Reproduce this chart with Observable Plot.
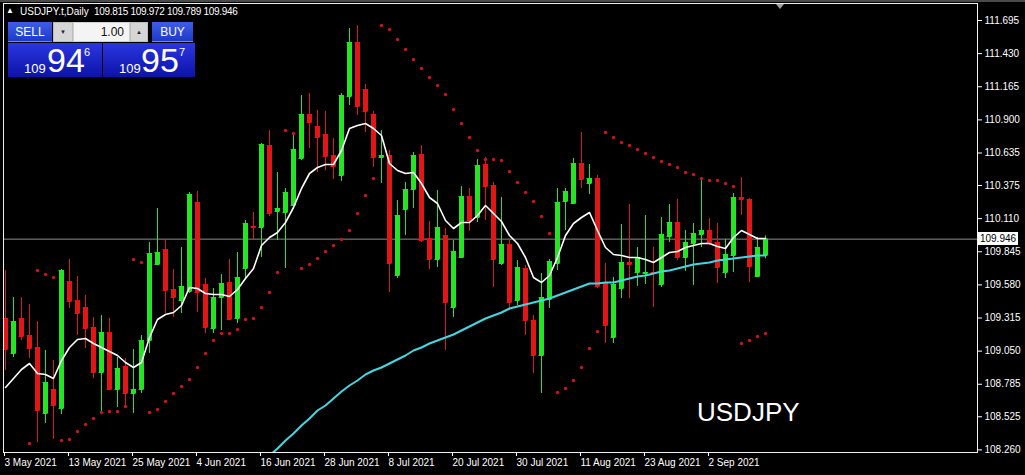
<!DOCTYPE html>
<html><head><meta charset="utf-8">
<script src="https://cdn.jsdelivr.net/npm/d3@7"></script>
<script src="https://cdn.jsdelivr.net/npm/@observablehq/plot@0.6"></script>
<style>
body{margin:0;background:#000;}
#wrap{position:relative;width:1025px;height:475px;overflow:hidden;background:#000;font-family:"Liberation Sans",Arial,sans-serif;}
#chart svg{display:block}
.ov{position:absolute;white-space:nowrap;color:#fff;line-height:1;}
.btn{position:absolute;background:linear-gradient(#3f5fe8,#1d39c8);color:#fff;font-size:12px;display:flex;align-items:center;justify-content:center;border-bottom:1px solid #6f86f0;box-sizing:border-box;}
.spin{position:absolute;background:#d6d6d6;color:#222;font-size:9px;display:flex;align-items:center;justify-content:center;box-sizing:border-box;border:1px solid #bdbdbd;}
.lot{position:absolute;background:#f4f4f4;color:#111;font-size:12px;display:flex;align-items:center;justify-content:flex-end;padding-right:5px;box-sizing:border-box;border:1px solid #cfcfcf;}
.big{position:absolute;background:linear-gradient(#2a36e0,#0d13a8);}
</style></head>
<body>
<div id="wrap">
  <div id="chart"></div>
</div>
<script>
// ---- data (USDJPY.t, Daily) ----
const symbol = "USDJPY";
const headerText = "USDJPY.t,Daily";
const headerOHLC = ["109.815", "109.972", "109.789", "109.946"];
const lastPrice = 109.946;
const bidParts = ["109", "94", "6"];
const askParts = ["109", "95", "7"];
const lotSize = "1.00";

const xTickIdx = [0, 8, 16, 24, 32, 40, 48, 56, 64, 72, 80, 88];
const xTickLabels = ["3 May 2021","13 May 2021","25 May 2021","4 Jun 2021","16 Jun 2021","28 Jun 2021","8 Jul 2021","20 Jul 2021","30 Jul 2021","11 Aug 2021","23 Aug 2021","2 Sep 2021"];
const yTicks = [111.695,111.430,111.165,110.900,110.635,110.375,110.110,109.845,109.580,109.315,109.050,108.785,108.525,108.260];

const open = [109.311,109.031,109.311,109.175,109.079,108.551,108.743,108.591,109.607,109.455,
109.399,109.239,108.879,109.199,108.743,108.927,108.711,108.743,109.135,109.743,
109.863,109.543,109.455,109.527,110.239,109.583,109.231,109.479,109.599,109.311,
109.711,110.047,110.039,110.695,110.167,110.159,110.215,110.591,110.943,110.847,
110.783,110.615,110.455,111.087,111.519,111.143,110.943,110.599,110.615,109.655,
110.183,110.343,110.623,109.951,109.783,109.975,109.399,109.799,110.287,110.119,
110.543,110.375,109.751,109.903,109.455,109.711,109.295,109.015,109.463,109.751,
110.247,110.231,110.551,110.391,110.431,109.591,109.159,109.551,109.759,109.679,
109.671,109.679,109.583,109.967,110.079,109.799,109.911,109.983,110.015,109.919,
109.679,109.815,110.279,110.263,109.647,109.815];
const high = [109.695,109.479,109.479,109.423,109.287,109.055,108.975,109.703,109.783,109.647,
109.495,109.319,109.335,109.311,108.999,108.991,109.063,109.175,109.919,110.191,
109.935,109.703,109.879,110.319,110.327,109.631,109.551,109.663,109.783,109.839,
110.095,110.159,110.711,110.815,110.479,110.351,110.775,111.095,111.111,110.975,
110.967,110.751,111.111,111.631,111.655,111.183,110.967,110.815,110.655,110.255,
110.399,110.639,110.695,110.087,110.335,110.031,109.935,110.367,110.351,110.583,
110.599,110.399,110.279,109.935,109.775,109.735,109.335,109.671,109.783,110.351,
110.351,110.591,110.799,110.543,110.455,109.751,109.639,110.063,110.223,109.879,
110.135,109.879,110.119,110.223,110.263,110.015,110.071,110.439,110.111,110.071,
109.943,110.311,110.439,110.271,109.959,109.972];
const low = [108.895,108.999,109.135,108.991,108.319,108.471,108.343,108.543,109.391,109.175,
109.071,108.831,108.559,108.735,108.599,108.615,108.551,108.711,109.031,109.735,
109.351,109.319,109.351,109.511,109.359,109.191,109.191,109.215,109.295,109.271,
109.631,109.943,109.799,110.127,109.935,109.711,110.207,110.575,110.671,110.479,
110.495,110.423,110.407,111.015,110.935,110.799,110.519,110.391,109.519,109.631,
109.975,110.191,109.919,109.703,109.719,109.055,109.319,109.791,110.007,110.079,
110.095,109.559,109.735,109.375,109.415,109.175,108.871,108.711,109.391,109.695,
110.015,110.223,110.351,110.303,109.551,109.111,109.111,109.471,109.471,109.567,
109.583,109.399,109.559,109.919,109.775,109.687,109.575,109.879,109.895,109.591,
109.631,109.679,110.135,109.599,109.640,109.789];
const close = [109.063,109.287,109.167,109.071,108.575,108.799,108.615,109.695,109.447,109.351,
109.231,108.879,109.199,108.743,108.911,108.711,108.743,109.135,109.831,109.839,
109.535,109.479,109.567,110.303,109.519,109.239,109.479,109.591,109.303,109.639,
110.071,110.039,110.703,110.151,110.191,110.319,110.663,110.943,110.879,110.759,
110.607,110.527,111.095,111.519,111.007,110.967,110.599,110.615,109.751,110.135,
110.343,110.615,109.935,109.783,110.039,109.439,109.847,110.287,110.095,110.535,
110.367,109.783,109.903,109.439,109.719,109.295,109.015,109.479,109.767,110.239,
110.327,110.551,110.423,110.431,109.567,109.255,109.583,109.759,109.743,109.799,
109.679,109.671,109.983,110.079,109.799,109.919,109.991,110.015,109.919,109.719,
109.823,110.279,110.263,109.727,109.879,109.946];

const fastMA = [108.759,108.831,108.903,108.951,108.871,108.863,108.831,108.975,109.079,109.143,
109.151,109.111,109.079,109.047,109.015,108.959,108.919,108.959,109.159,109.303,
109.343,109.359,109.415,109.559,109.551,109.511,109.503,109.503,109.487,109.543,
109.631,109.711,109.895,109.959,109.999,110.079,110.199,110.351,110.471,110.519,
110.543,110.543,110.655,110.831,110.855,110.871,110.831,110.775,110.551,110.495,
110.471,110.479,110.391,110.279,110.231,110.095,110.031,110.079,110.079,110.135,
110.215,110.151,110.087,109.975,109.911,109.799,109.639,109.599,109.655,109.799,
109.975,110.071,110.119,110.159,110.015,109.879,109.823,109.815,109.799,109.799,
109.783,109.759,109.799,109.839,109.847,109.879,109.895,109.911,109.911,109.887,
109.871,109.959,110.015,109.983,109.951,109.951];
const slowMA = [null,null,null,null,null,null,null,null,null,null,
null,null,null,null,null,null,null,null,null,null,
null,null,null,null,null,null,null,null,null,null,
null,null,108.159,108.215,108.271,108.335,108.391,108.455,108.511,108.575,
108.615,108.671,108.727,108.775,108.815,108.863,108.895,108.919,108.951,108.983,
109.015,109.055,109.079,109.111,109.135,109.159,109.183,109.215,109.247,109.279,
109.311,109.335,109.359,109.391,109.407,109.423,109.439,109.455,109.471,109.495,
109.519,109.543,109.567,109.591,109.591,109.599,109.599,109.615,109.631,109.647,
109.655,109.671,109.687,109.695,109.711,109.727,109.743,109.751,109.759,109.775,
109.783,109.791,109.799,109.807,109.815,109.815];
const sar = [null,null,null,108.311,109.695,109.663,109.639,108.335,108.343,108.407,
108.463,108.511,108.559,108.567,108.567,108.607,109.783,109.759,108.559,108.583,
108.647,108.711,108.767,108.823,108.919,109.031,109.135,109.191,109.191,109.223,
109.303,109.311,109.399,109.519,109.679,110.815,110.791,109.711,109.743,109.791,
109.847,109.895,109.943,110.015,110.151,110.295,110.431,111.655,111.623,111.543,
111.463,111.383,111.311,111.239,111.175,111.103,110.983,110.871,110.759,110.655,
110.583,110.583,110.575,110.487,110.399,110.319,110.247,110.127,109.991,108.719,
108.751,108.815,108.919,109.071,109.207,110.799,110.759,110.719,110.695,110.663,
110.631,110.599,110.567,110.543,110.519,110.479,110.463,110.431,110.415,110.415,
110.391,110.367,109.111,109.135,109.167,109.191];

// ---- build ----
const UP = "#22e622", DOWN = "#e31515";
const bars = open.map((o, i) => ({i, o, h: high[i], l: low[i], c: close[i], col: close[i] >= o ? UP : DOWN}));
const fastPts = fastMA.map((v, i) => ({i, v}));
const slowPts = slowMA.map((v, i) => ({i, v})).filter(d => d.v != null);
const sarPts = sar.map((v, i) => ({i, v})).filter(d => d.v != null);

const chart = Plot.plot({
  width: 1025, height: 475,
  marginLeft: 3, marginRight: 48, marginTop: 3, marginBottom: 23,
  style: {background: "#000", color: "#fff", fontFamily: "'Liberation Sans', Arial, sans-serif", fontSize: "10px"},
  x: {domain: [-0.25, 121.5], axis: null},
  y: {domain: [108.239, 111.831], axis: null},
  color: {type: "identity"},
  marks: [
    Plot.ruleY([lastPrice], {stroke: "#8c8c8c", strokeWidth: 1}),
    Plot.ruleX(bars, {x: "i", y1: "l", y2: "h", stroke: "col", strokeWidth: 1}),
    Plot.ruleX(bars, {x: "i", y1: d => Math.min(d.o, d.c), y2: d => Math.max(d.o, d.c), stroke: "col", strokeWidth: 5}),
    Plot.ruleY(bars, {y: "c", x1: d => d.i - 0.3, x2: d => d.i + 0.32, stroke: "col"}),
    Plot.ruleY(bars, {y: "o", x1: d => d.i - 0.3, x2: d => d.i + 0.32, stroke: "col"}),
    Plot.line(slowPts, {x: "i", y: "v", stroke: "#45d6df", strokeWidth: 2, clip: true}),
    Plot.line(fastPts, {x: "i", y: "v", stroke: "#ffffff", strokeWidth: 1.6}),
    Plot.dot(sarPts, {x: "i", y: "v", r: 1.7, fill: "#c8141c", stroke: null}),
    Plot.frame({stroke: "#f0f0f0"}),
    Plot.axisX({anchor: "bottom", ticks: xTickIdx, tickFormat: d => xTickLabels[xTickIdx.indexOf(d)], tickSize: 4, tickPadding: 2, textAnchor: "start", dx: -1, color: "#fff", label: null}),
    Plot.axisY({anchor: "right", ticks: yTicks, tickFormat: d => d.toFixed(3), tickSize: 4, tickPadding: 3, color: "#fff", label: null})
  ]
});
const wrap = document.getElementById("wrap");
document.getElementById("chart").appendChild(chart);

function ov(html, style, cls) {
  const d = document.createElement("div");
  d.className = cls || "ov";
  d.setAttribute("style", style);
  d.innerHTML = html;
  wrap.appendChild(d);
  return d;
}
// top strip and shift marker
ov("", "left:0;top:0;width:1025px;height:2px;background:#4a4a4a;");
ov("", "left:776px;top:4px;width:0;height:0;border-left:4px solid transparent;border-right:4px solid transparent;border-top:5px solid #a0a0a0;");
// header
ov("&#9650;", "left:6px;top:7px;font-size:8px;");
ov(headerText, "left:20px;top:7px;font-size:10px;");
ov(headerOHLC.join(" "), "left:94px;top:7px;font-size:10px;letter-spacing:-0.3px;");
// trading panel
ov("SELL", "left:8px;top:22px;width:44px;height:20px;", "btn");
ov("&#9660;", "left:53px;top:22px;width:20px;height:20px;font-size:6px;", "spin");
ov(lotSize, "left:73px;top:22px;width:57px;height:20px;", "lot");
ov("&#9650;", "left:130px;top:22px;width:18px;height:20px;font-size:6px;", "spin");
ov("BUY", "left:152px;top:22px;width:41px;height:20px;", "btn");
ov("", "left:8px;top:43px;width:94px;height:34px;", "big");
ov("", "left:103px;top:43px;width:92px;height:34px;", "big");
ov(bidParts[0], "left:24px;top:62px;font-size:13px;");
ov(bidParts[1], "left:47px;top:43px;font-size:34px;");
ov(bidParts[2], "left:84px;top:47px;font-size:11px;");
ov(askParts[0], "left:119px;top:62px;font-size:13px;");
ov(askParts[1], "left:141px;top:43px;font-size:34px;");
ov(askParts[2], "left:179px;top:47px;font-size:11px;");
// current price label
ov(lastPrice.toFixed(3), "left:978px;top:232px;width:40px;height:13px;background:#fff;color:#000;font-size:10px;line-height:13px;text-align:center;");
// symbol watermark
ov(symbol, "left:697px;top:399px;font-size:26px;");
</script>
</body></html>
